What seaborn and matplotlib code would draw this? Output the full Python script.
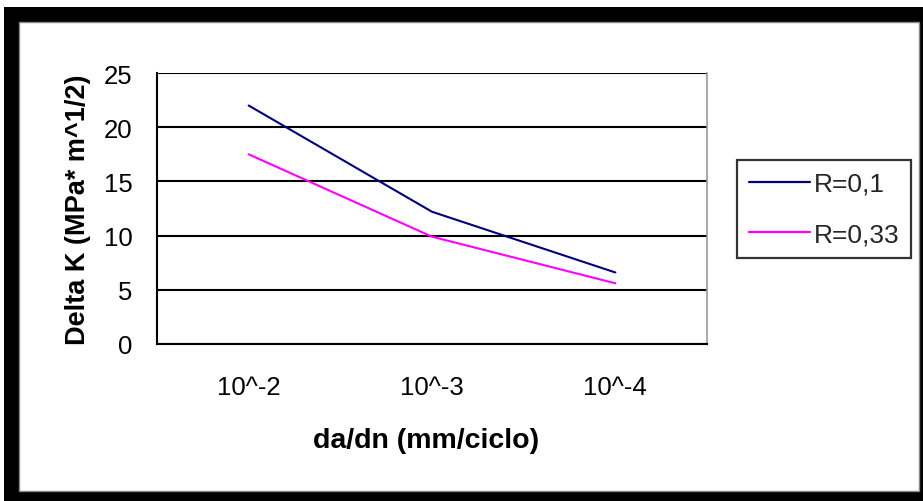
import matplotlib
matplotlib.use("Agg")
import matplotlib.pyplot as plt
import seaborn as sns
import pandas as pd
from matplotlib.patches import Rectangle
from matplotlib.lines import Line2D

categories = ["10^-2", "10^-3", "10^-4"]
r01 = [22.0, 12.2, 6.6]
r033 = [17.5, 9.9, 5.6]
series_names = ["R=0,1", "R=0,33"]
yticks = [0, 5, 10, 15, 20, 25]

sns.set_theme(style="white")
plt.rcParams['font.family'] = ['Liberation Sans', 'DejaVu Sans']

W, H = 923, 502
fig = plt.figure(figsize=(W / 100, H / 100), dpi=100)
fig.patch.set_facecolor("white")

# frame
fig.add_artist(Rectangle((4 / W, 0), (W - 4) / W, (H - 8) / H, transform=fig.transFigure,
                         facecolor="black", edgecolor="none", zorder=-10))
fig.add_artist(Rectangle((19 / W, (H - 492) / H), (919 - 19) / W, (492 - 23) / H,
                         transform=fig.transFigure, facecolor="white",
                         edgecolor="#888888", linewidth=1.0, zorder=-9))

x0, x1, y0, y1 = 157, 707, 74, 345
ax = fig.add_axes([x0 / W, (H - y1) / H, (x1 - x0) / W, (y1 - y0) / H])
ax.set_facecolor("white")

df = pd.DataFrame({
    "x": list(range(len(categories))) * 2,
    "y": r01 + r033,
    "serie": [series_names[0]] * 3 + [series_names[1]] * 3,
})
sns.lineplot(data=df, x="x", y="y", hue="serie", palette=["#000080", "#FF00FF"],
             linewidth=1.5, ax=ax, legend=False)

ax.set_xlim(-0.5, len(categories) - 0.5)
ax.set_ylim(0, 25)
ax.set_yticks(yticks)
ax.set_yticklabels([str(v) for v in yticks], fontsize=18.5)
ax.set_xticks([i for i in range(len(categories))])
ax.set_xticklabels(categories, fontsize=18.5)
ax.set_xticks([-0.5, 0.5, 1.5, 2.5], minor=True)
ax.tick_params(axis="x", which="major", length=0, pad=22, colors="black")
ax.tick_params(axis="x", which="minor", length=6.5, width=1.4, color="black", direction="out")
ax.tick_params(axis="y", length=6.5, width=1.4, color="black", direction="out", pad=11, labelcolor="black")
ax.grid(axis="y", color="black", linewidth=1.5)
ax.set_axisbelow(True)
ax.spines["top"].set_visible(False)
ax.spines["right"].set_visible(True)
ax.spines["right"].set_color("#999999")
ax.spines["right"].set_linewidth(1.2)
for s in ["left", "bottom"]:
    ax.spines[s].set_color("black")
    ax.spines[s].set_linewidth(1.5)

ax.set_xlabel("da/dn (mm/ciclo)", fontsize=20.5, fontweight="bold", color="black")
ax.xaxis.set_label_coords(0.49, -0.305)
ax.set_ylabel("Delta K (MPa* m^1/2)", fontsize=19.5, fontweight="bold", labelpad=9, color="black")

# legend
handles = [Line2D([], [], color="#000080", linewidth=1.6),
           Line2D([], [], color="#FF00FF", linewidth=1.6)]
leg = fig.legend(handles, series_names, loc="upper left",
                 bbox_to_anchor=(737 / W, (H - 161) / H), bbox_transform=fig.transFigure,
                 frameon=True, fancybox=False, fontsize=19, handlelength=2.3,
                 handletextpad=0.15, labelspacing=1.0, borderpad=0.45, borderaxespad=0)
leg.get_frame().set_edgecolor("black")
leg.get_frame().set_linewidth(1.6)

fig.savefig("out.png", dpi=100, facecolor="white")
